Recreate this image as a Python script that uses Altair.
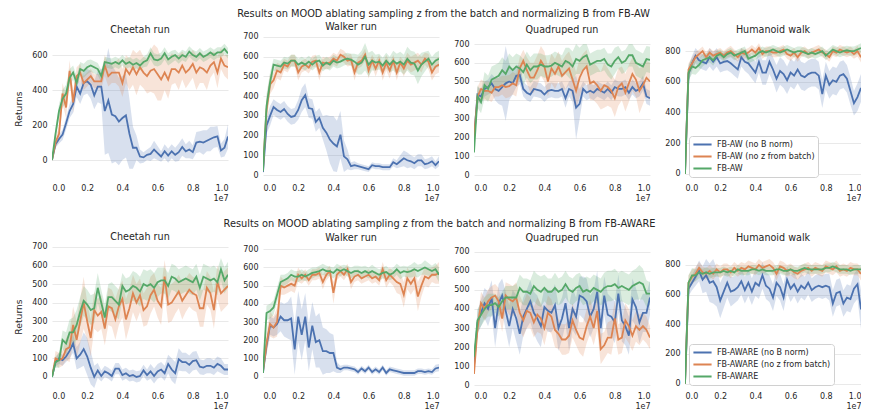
import altair as alt
import pandas as pd

# x positions in units of 1e7 environment steps (evaluation every 2e5 steps)
X = [i / 50 for i in range(51)]
COLORS = ["#4c72b0", "#dd8452", "#55a868"]
NAMES_AW = ["FB-AW (no B norm)", "FB-AW (no z from batch)", "FB-AW"]
NAMES_AWARE = ["FB-AWARE (no B norm)", "FB-AWARE (no z from batch)", "FB-AWARE"]
TITLE_AW = "Results on MOOD ablating sampling z from the batch and normalizing B from FB-AW"
TITLE_AWARE = "Results on MOOD ablating sampling z from the batch and normalizing B from FB-AWARE"
TASKS = ["Cheetah run", "Walker run", "Quadruped run", "Humanoid walk"]

# ---------------- Row 1 (FB-AW) ----------------
aw_cheetah_blue = [0, 90, 120, 145, 210, 280, 320, 420, 380, 440,
                   450, 430, 370, 420, 420, 280, 340, 260, 250, 220,
                   240, 255, 150, 70, 70, 20, 15, 30, 35, 60,
                   40, 20, 50, 25, 50, 30, 45, 75, 50, 60,
                   45, 100, 105, 100, 110, 120, 130, 135, 55, 70,
                   135]
aw_cheetah_blue_hw = [0, 20, 25, 30, 35, 40, 50, 60, 60, 70,
                      70, 80, 80, 90, 100, 250, 300, 280, 260, 250,
                      240, 240, 200, 120, 70, 40, 30, 30, 40, 50,
                      40, 30, 40, 40, 40, 40, 50, 50, 40, 50,
                      40, 60, 60, 70, 60, 70, 60, 60, 40, 50,
                      70]
aw_cheetah_orange = [0, 100, 150, 380, 300, 510, 330, 480, 500, 440,
                     460, 480, 450, 450, 450, 540, 480, 500, 500, 500,
                     440, 520, 490, 530, 490, 530, 500, 480, 510, 520,
                     490, 460, 500, 460, 520, 520, 500, 540, 500, 520,
                     550, 500, 530, 520, 500, 540, 560, 500, 580, 540,
                     530]
aw_cheetah_orange_hw = [0, 30, 40, 60, 60, 60, 60, 50, 50, 40,
                        40, 40, 40, 40, 40, 60, 60, 60, 60, 80,
                        80, 80, 90, 100, 120, 100, 90, 100, 120, 140,
                        150, 120, 100, 110, 90, 80, 100, 80, 90, 80,
                        80, 100, 90, 80, 100, 70, 60, 90, 60, 60,
                        70]
aw_cheetah_green = [0, 150, 280, 350, 380, 470, 500, 440, 520, 510,
                    530, 540, 530, 520, 480, 560, 555, 550, 560, 550,
                    570, 550, 560, 545, 555, 540, 560, 570, 610, 575,
                    570, 580, 610, 575, 590, 600, 580, 600, 590, 620,
                    600, 590, 610, 590, 600, 615, 600, 615, 615, 635,
                    610]
aw_cheetah_green_hw = [0, 30, 40, 50, 50, 50, 40, 40, 40, 40,
                       40, 35, 35, 35, 35, 30, 30, 30, 30, 30,
                       30, 30, 30, 30, 30, 30, 30, 35, 35, 35,
                       35, 35, 35, 35, 35, 30, 30, 30, 30, 30,
                       30, 30, 30, 30, 30, 30, 30, 30, 30, 30,
                       30]

aw_walker_blue = [15, 250, 300, 345, 330, 320, 335, 310, 295, 300,
                  330, 380, 405, 340, 335, 270, 290, 240, 215, 180,
                  160, 145, 205, 95, 80, 45, 50, 45, 40, 35,
                  30, 50, 45, 45, 40, 40, 40, 65, 55, 70,
                  85, 75, 70, 60, 75, 75, 55, 60, 70, 50,
                  70]
aw_walker_blue_hw = [0, 40, 50, 40, 40, 40, 40, 40, 40, 40,
                     50, 60, 60, 50, 50, 50, 50, 60, 90, 120,
                     140, 130, 120, 80, 50, 20, 20, 15, 15, 15,
                     15, 15, 15, 15, 15, 15, 15, 20, 20, 30,
                     40, 40, 30, 30, 30, 30, 25, 25, 25, 20,
                     25]
aw_walker_orange = [30, 330, 460, 480, 530, 520, 560, 550, 580, 580,
                    520, 550, 560, 545, 575, 580, 520, 570, 565, 570,
                    590, 580, 610, 600, 580, 585, 520, 570, 580, 610,
                    530, 580, 540, 580, 520, 570, 530, 580, 520, 570,
                    540, 580, 560, 570, 580, 560, 590, 575, 520, 550,
                    560]
aw_walker_orange_hw = [0, 60, 50, 40, 40, 40, 30, 30, 30, 30,
                       40, 30, 30, 30, 30, 30, 40, 30, 30, 30,
                       30, 30, 30, 30, 30, 30, 40, 30, 30, 30,
                       40, 30, 40, 30, 40, 40, 40, 30, 40, 30,
                       40, 40, 40, 40, 40, 40, 30, 40, 40, 40,
                       40]
aw_walker_green = [20, 350, 470, 560, 555, 550, 570, 565, 580, 580,
                   560, 570, 560, 575, 560, 575, 580, 555, 570, 560,
                   580, 570, 575, 585, 590, 585, 575, 560, 570, 600,
                   560, 580, 570, 575, 555, 580, 560, 580, 565, 575,
                   560, 590, 570, 565, 530, 560, 575, 590, 560, 580,
                   590]
aw_walker_green_hw = [0, 60, 50, 30, 30, 30, 30, 30, 30, 30,
                      30, 30, 30, 30, 30, 30, 30, 30, 30, 30,
                      30, 30, 30, 30, 30, 30, 40, 50, 60, 70,
                      60, 50, 40, 40, 40, 40, 40, 50, 50, 50,
                      50, 60, 60, 60, 70, 60, 50, 40, 40, 40,
                      40]

aw_quad_blue = [200, 430, 420, 460, 470, 490, 460, 450, 470, 490,
                500, 490, 530, 535, 460, 440, 430, 460, 455, 450,
                430, 450, 455, 450, 450, 460, 410, 460, 450, 360,
                380, 460, 440, 450, 440, 460, 450, 440, 460, 440,
                470, 460, 460, 470, 440, 470, 450, 460, 490, 420,
                410]
aw_quad_blue_hw = [0, 40, 40, 40, 40, 50, 60, 70, 100, 200,
                   100, 60, 60, 50, 40, 40, 40, 40, 40, 40,
                   40, 40, 40, 40, 40, 40, 50, 40, 60, 170,
                   80, 40, 40, 40, 40, 40, 40, 40, 40, 40,
                   40, 40, 40, 40, 40, 40, 40, 40, 40, 40,
                   40]
aw_quad_orange = [200, 420, 460, 450, 450, 440, 470, 470, 480, 470,
                  475, 490, 480, 570, 610, 560, 520, 520, 560, 610,
                  580, 500, 570, 540, 580, 530, 550, 570, 510, 450,
                  520, 560, 580, 490, 500, 480, 450, 480, 470, 450,
                  410, 470, 490, 440, 490, 540, 510, 450, 480, 520,
                  500]
aw_quad_orange_hw = [0, 50, 50, 50, 50, 50, 50, 50, 50, 60,
                     60, 60, 60, 60, 60, 70, 80, 80, 80, 80,
                     80, 80, 80, 80, 80, 80, 90, 90, 100, 100,
                     100, 90, 90, 90, 100, 100, 100, 120, 100, 90,
                     100, 100, 90, 100, 100, 90, 90, 120, 100, 90,
                     100]
aw_quad_green = [120, 420, 390, 480, 460, 510, 520, 530, 560, 540,
                 580, 560, 580, 570, 550, 590, 560, 580, 580, 590,
                 580, 580, 585, 600, 590, 580, 610, 600, 580, 620,
                 610, 630, 640, 590, 600, 610, 610, 620, 590, 580,
                 610, 630, 600, 610, 640, 640, 600, 590, 580, 620,
                 615]
aw_quad_green_hw = [0, 60, 60, 70, 70, 70, 70, 70, 70, 70,
                    70, 70, 70, 70, 70, 70, 70, 70, 70, 60,
                    60, 60, 60, 60, 60, 60, 70, 80, 80, 80,
                    70, 70, 60, 60, 60, 60, 60, 60, 60, 70,
                    70, 60, 60, 60, 60, 60, 70, 70, 70, 70,
                    70]

aw_hum_blue = [0, 650, 720, 770, 740, 730, 720, 760, 730, 760,
               720, 730, 735, 720, 700, 680, 760, 730, 720, 690,
               660, 730, 660, 660, 730, 680, 620, 670, 650, 610,
               660, 640, 680, 640, 630, 650, 660, 660, 640, 520,
               640, 580, 610, 600, 640, 650, 620, 540, 460, 500,
               560]
aw_hum_blue_hw = [0, 50, 50, 50, 50, 50, 50, 60, 60, 60,
                  60, 60, 60, 60, 60, 60, 60, 60, 70, 70,
                  70, 70, 80, 80, 80, 80, 90, 90, 90, 90,
                  90, 90, 90, 90, 90, 90, 90, 90, 90, 90,
                  90, 90, 90, 90, 90, 90, 90, 90, 80, 90,
                  90]
aw_hum_orange = [0, 680, 720, 760, 780, 800, 760, 790, 770, 780,
                 790, 770, 790, 800, 780, 760, 790, 780, 790, 810,
                 790, 820, 780, 800, 800, 790, 790, 800, 810, 780,
                 770, 790, 760, 790, 800, 780, 790, 800, 810, 790,
                 780, 760, 800, 790, 810, 800, 790, 800, 780, 800,
                 760]
aw_hum_orange_hw = [0, 40, 40, 35, 30, 30, 30, 30, 30, 30,
                    30, 30, 30, 35, 30, 30, 30, 30, 30, 30,
                    30, 30, 30, 30, 30, 30, 30, 30, 30, 30,
                    35, 30, 30, 30, 30, 30, 30, 30, 30, 30,
                    30, 30, 30, 30, 30, 30, 30, 30, 30, 35,
                    35]
aw_hum_green = [0, 660, 700, 690, 710, 740, 750, 760, 740, 770,
                780, 760, 780, 790, 770, 780, 790, 800, 750, 760,
                770, 790, 800, 790, 800, 810, 800, 790, 800, 810,
                800, 790, 800, 800, 790, 780, 790, 780, 790, 800,
                770, 790, 810, 800, 790, 800, 805, 800, 800, 810,
                820]
aw_hum_green_hw = [0, 50, 50, 45, 40, 40, 35, 35, 35, 30,
                   30, 30, 30, 30, 30, 30, 30, 30, 30, 30,
                   30, 30, 30, 30, 30, 30, 30, 30, 30, 30,
                   30, 30, 30, 30, 30, 30, 30, 30, 30, 30,
                   30, 30, 30, 30, 30, 30, 30, 30, 30, 30,
                   30]

# ---------------- Row 2 (FB-AWARE) ----------------
aware_cheetah_blue = [0, 80, 100, 90, 110, 140, 180, 100, 120, 150,
                      110, 50, 0, 35, 5, 30, 20, 5, 45, 45,
                      10, 20, 5, 10, 0, 5, 35, 10, 30, 5,
                      30, 40, 20, 70, 40, 20, 95, 80, 80, 65,
                      85, 90, 55, 50, 60, 60, 50, 70, 60, 40,
                      40]
aware_cheetah_blue_hw = [0, 20, 30, 30, 30, 40, 50, 60, 70, 90,
                         100, 90, 60, 40, 30, 30, 30, 30, 30, 30,
                         30, 30, 30, 30, 30, 30, 30, 30, 40, 40,
                         40, 40, 40, 50, 60, 60, 60, 50, 50, 50,
                         50, 50, 40, 40, 40, 40, 40, 40, 40, 30,
                         30]
aware_cheetah_orange = [0, 100, 90, 100, 150, 160, 280, 200, 300, 400,
                        300, 210, 360, 330, 350, 260, 380, 370, 310, 380,
                        420, 310, 370, 450, 400, 440, 360, 380, 440, 470,
                        410, 380, 540, 390, 400, 430, 460, 410, 440, 470,
                        450, 440, 370, 370, 480, 450, 360, 510, 450, 470,
                        490]
aware_cheetah_orange_hw = [0, 40, 40, 40, 60, 80, 100, 100, 120, 140,
                           100, 100, 100, 90, 90, 90, 100, 100, 110, 100,
                           100, 110, 100, 100, 100, 90, 90, 100, 100, 90,
                           90, 100, 90, 100, 100, 90, 90, 100, 90, 90,
                           90, 90, 100, 100, 90, 90, 100, 90, 100, 100,
                           100]
aware_cheetah_green = [0, 80, 90, 200, 180, 240, 240, 280, 350, 410,
                       390, 360, 370, 480, 400, 320, 430, 430, 410, 390,
                       490, 460, 470, 490, 480, 460, 500, 490, 500, 480,
                       510, 520, 520, 490, 540, 530, 510, 520, 530, 520,
                       510, 540, 480, 540, 530, 520, 530, 510, 580, 520,
                       550]
aware_cheetah_green_hw = [0, 30, 40, 50, 60, 70, 80, 80, 80, 80,
                          80, 80, 80, 80, 70, 70, 70, 80, 80, 80,
                          70, 70, 70, 80, 80, 80, 80, 80, 80, 80,
                          80, 70, 70, 70, 70, 70, 70, 70, 70, 70,
                          70, 70, 70, 70, 70, 70, 70, 70, 60, 70,
                          70]

aware_walker_blue = [20, 170, 280, 270, 290, 330, 310, 310, 320, 150,
                     330, 230, 330, 160, 280, 190, 200, 140, 140, 130,
                     130, 50, 40, 50, 50, 45, 40, 25, 45, 30,
                     50, 25, 40, 25, 50, 20, 40, 35, 30, 25,
                     20, 20, 20, 20, 30, 30, 25, 30, 25, 45,
                     50]
aware_walker_blue_hw = [0, 40, 50, 50, 60, 80, 90, 100, 120, 140,
                        140, 140, 130, 130, 130, 140, 150, 130, 120, 110,
                        100, 30, 20, 15, 15, 15, 15, 15, 15, 15,
                        15, 15, 15, 15, 15, 15, 15, 15, 15, 15,
                        15, 15, 15, 15, 15, 15, 15, 15, 15, 20,
                        20]
aware_walker_orange = [30, 180, 290, 270, 300, 500, 490, 500, 510, 500,
                       560, 540, 560, 530, 560, 560, 570, 520, 560, 580,
                       460, 560, 580, 560, 590, 520, 550, 560, 540, 550,
                       560, 540, 550, 530, 590, 530, 560, 540, 520, 510,
                       450, 540, 510, 540, 440, 500, 550, 540, 560, 560,
                       570]
aware_walker_orange_hw = [0, 60, 70, 60, 80, 50, 40, 40, 40, 40,
                          40, 30, 30, 30, 30, 30, 30, 40, 30, 30,
                          60, 30, 30, 30, 30, 40, 30, 30, 30, 30,
                          30, 30, 30, 30, 40, 40, 40, 40, 60, 60,
                          70, 60, 60, 60, 80, 60, 50, 50, 40, 50,
                          60]
aware_walker_green = [20, 350, 360, 380, 450, 520, 530, 540, 560, 550,
                      550, 560, 550, 560, 570, 575, 580, 590, 580, 580,
                      570, 590, 580, 590, 580, 570, 580, 580, 570, 580,
                      570, 580, 570, 560, 570, 575, 560, 570, 590, 570,
                      580, 575, 580, 590, 580, 590, 600, 590, 580, 590,
                      560]
aware_walker_green_hw = [0, 40, 40, 40, 40, 40, 30, 30, 30, 30,
                         30, 30, 25, 30, 30, 25, 30, 30, 30, 25,
                         30, 30, 30, 25, 30, 30, 30, 30, 35, 30,
                         30, 35, 30, 30, 30, 35, 30, 30, 30, 35,
                         30, 30, 35, 40, 35, 30, 40, 35, 30, 35,
                         40]

aware_quad_blue = [100, 330, 380, 430, 400, 460, 300, 430, 470, 390,
                   310, 400, 350, 270, 360, 400, 440, 380, 350, 310,
                   410, 390, 380, 420, 300, 350, 430, 300, 400, 360,
                   470, 460, 440, 360, 400, 490, 300, 470, 370, 360,
                   330, 480, 340, 310, 260, 450, 410, 330, 380, 380,
                   460]
aware_quad_blue_hw = [0, 60, 70, 80, 90, 90, 100, 100, 90, 100,
                      110, 100, 120, 110, 100, 100, 110, 110, 120, 110,
                      100, 110, 100, 110, 120, 110, 110, 120, 110, 100,
                      100, 110, 120, 110, 100, 110, 120, 100, 110, 100,
                      110, 100, 110, 100, 100, 110, 100, 110, 100, 100,
                      90]
aware_quad_orange = [60, 300, 430, 400, 440, 460, 470, 440, 350, 470,
                     450, 440, 460, 380, 340, 390, 380, 330, 370, 350,
                     300, 380, 360, 290, 270, 240, 240, 260, 340, 290,
                     250, 240, 310, 360, 300, 390, 190, 210, 250, 250,
                     350, 240, 250, 340, 310, 260, 310, 290, 310, 290,
                     250]
aware_quad_orange_hw = [0, 50, 60, 60, 60, 60, 60, 70, 70, 70,
                        80, 80, 80, 90, 90, 90, 80, 80, 90, 80,
                        90, 90, 90, 90, 80, 80, 80, 90, 90, 80,
                        80, 90, 90, 90, 90, 100, 80, 70, 80, 90,
                        90, 80, 80, 90, 90, 80, 80, 80, 70, 70,
                        60]
aware_quad_green = [150, 340, 370, 400, 420, 420, 430, 410, 440, 460,
                    460, 460, 460, 510, 490, 490, 480, 520, 500, 490,
                    510, 490, 490, 510, 490, 500, 530, 500, 490, 510,
                    520, 490, 500, 490, 510, 500, 490, 510, 520, 520,
                    530, 510, 520, 510, 500, 520, 530, 540, 530, 480,
                    480]
aware_quad_green_hw = [0, 60, 60, 60, 60, 60, 50, 50, 50, 60,
                       60, 60, 70, 70, 70, 70, 70, 80, 80, 80,
                       70, 70, 70, 80, 70, 70, 70, 70, 70, 70,
                       70, 70, 70, 70, 70, 70, 70, 80, 80, 80,
                       80, 80, 80, 80, 80, 80, 80, 90, 80, 70,
                       60]

aware_hum_blue = [0, 640, 680, 720, 760, 700, 730, 680, 690, 650,
                  560, 620, 680, 620, 630, 650, 690, 630, 680, 620,
                  680, 660, 730, 660, 640, 580, 680, 650, 580, 700,
                  640, 670, 620, 660, 640, 680, 630, 650, 660, 650,
                  660, 650, 540, 610, 620, 540, 580, 570, 640, 670,
                  500]
aware_hum_blue_hw = [0, 50, 50, 60, 70, 90, 110, 130, 150, 130,
                     120, 110, 100, 100, 90, 90, 90, 90, 90, 90,
                     90, 90, 90, 90, 90, 90, 90, 90, 90, 90,
                     90, 80, 80, 80, 80, 80, 80, 80, 80, 80,
                     80, 90, 90, 90, 90, 90, 90, 90, 100, 100,
                     130]
aware_hum_orange = [0, 680, 720, 740, 780, 750, 740, 760, 740, 770,
                    750, 770, 770, 750, 780, 760, 780, 770, 790, 780,
                    770, 800, 780, 790, 800, 780, 740, 790, 780, 760,
                    770, 750, 740, 760, 770, 780, 760, 780, 770, 760,
                    790, 780, 770, 790, 760, 770, 760, 780, 770, 770,
                    740]
aware_hum_orange_hw = [0, 50, 50, 45, 40, 40, 40, 40, 40, 40,
                       40, 40, 40, 40, 40, 40, 40, 40, 40, 40,
                       40, 40, 40, 40, 40, 40, 45, 40, 40, 40,
                       40, 40, 40, 40, 40, 40, 40, 40, 40, 40,
                       40, 40, 40, 40, 40, 40, 40, 40, 40, 40,
                       45]
aware_hum_green = [0, 680, 730, 730, 750, 740, 750, 740, 750, 750,
                   750, 760, 750, 760, 750, 770, 760, 760, 760, 770,
                   770, 760, 770, 760, 760, 760, 770, 770, 760, 760,
                   770, 760, 760, 770, 780, 770, 770, 770, 770, 770,
                   780, 780, 790, 780, 770, 770, 770, 760, 770, 770,
                   770]
aware_hum_green_hw = [0, 50, 50, 40, 40, 35, 35, 35, 30, 30,
                      30, 30, 30, 30, 30, 30, 30, 30, 30, 30,
                      30, 30, 30, 30, 30, 30, 30, 30, 30, 30,
                      30, 30, 30, 30, 30, 30, 30, 30, 30, 30,
                      30, 30, 30, 30, 30, 30, 30, 30, 30, 30,
                      30]

ROW1 = [
    ([(aw_cheetah_blue, aw_cheetah_blue_hw), (aw_cheetah_orange, aw_cheetah_orange_hw), (aw_cheetah_green, aw_cheetah_green_hw)], [-120, 709], [0, 200, 400, 600]),
    ([(aw_walker_blue, aw_walker_blue_hw), (aw_walker_orange, aw_walker_orange_hw), (aw_walker_green, aw_walker_green_hw)], [-30, 705], [0, 100, 200, 300, 400, 500, 600, 700]),
    ([(aw_quad_blue, aw_quad_blue_hw), (aw_quad_orange, aw_quad_orange_hw), (aw_quad_green, aw_quad_green_hw)], [-32, 743], [0, 100, 200, 300, 400, 500, 600, 700]),
    ([(aw_hum_blue, aw_hum_blue_hw), (aw_hum_orange, aw_hum_orange_hw), (aw_hum_green, aw_hum_green_hw)], [-46, 898], [0, 200, 400, 600, 800]),
]
ROW2 = [
    ([(aware_cheetah_blue, aware_cheetah_blue_hw), (aware_cheetah_orange, aware_cheetah_orange_hw), (aware_cheetah_green, aware_cheetah_green_hw)], [-65, 716], [0, 100, 200, 300, 400, 500, 600, 700]),
    ([(aware_walker_blue, aware_walker_blue_hw), (aware_walker_orange, aware_walker_orange_hw), (aware_walker_green, aware_walker_green_hw)], [-68, 729], [0, 100, 200, 300, 400, 500, 600, 700]),
    ([(aware_quad_blue, aware_quad_blue_hw), (aware_quad_orange, aware_quad_orange_hw), (aware_quad_green, aware_quad_green_hw)], [-19, 740], [0, 100, 200, 300, 400, 500, 600, 700]),
    ([(aware_hum_blue, aware_hum_blue_hw), (aware_hum_orange, aware_hum_orange_hw), (aware_hum_green, aware_hum_green_hw)], [-36, 941], [0, 200, 400, 600, 800]),
]

W, H = 176, 145
FONT = "DejaVu Sans"
TXT = "#262626"


def panel(title, names, series, domain, ticks, first, with_legend):
    rows = []
    for name, (mean, hw) in zip(names, series):
        for x, m, h in zip(X, mean, hw):
            rows.append({"x": x, "y": m, "lo": m - h, "hi": m + h, "s": name})
    df = pd.DataFrame(rows)
    xaxis = alt.Axis(values=[0, 0.2, 0.4, 0.6, 0.8, 1.0], format=".1f", title="1e7",
                     titleAnchor="end", titleFontSize=8, titleFontWeight="normal",
                     titlePadding=2, labelPadding=3, grid=False)
    xenc = alt.X("x:Q", scale=alt.Scale(domain=[0, 1], nice=False, zero=False), axis=xaxis)
    yscale = alt.Scale(domain=domain, nice=False, zero=False)
    yaxis = alt.Axis(values=ticks, title="Returns" if first else None, labelPadding=5,
                     minExtent=22, maxExtent=22, titlePadding=7, titleFontSize=9.2,
                     titleFontWeight="normal", grid=True)
    base = alt.Chart(df)
    # confidence bands: one layer per series, constant colour (no extra scale / legend)
    bands = [
        base.transform_filter(alt.FieldEqualPredicate(field="s", equal=name))
        .mark_area(color=c, opacity=0.22, clip=True)
        .encode(x=xenc, y=alt.Y("lo:Q", scale=yscale, axis=yaxis), y2="hi:Q")
        for name, c in zip(names, COLORS)
    ]
    cscale = alt.Scale(domain=names, range=COLORS)
    if with_legend:
        leg = alt.Legend(title=None, orient="bottom-left", offset=4, fillColor="white",
                         strokeColor="#d0d0d0", cornerRadius=3, padding=3,
                         symbolType="stroke", symbolSize=330, symbolStrokeWidth=2,
                         labelFontSize=8, labelFont=FONT, labelColor=TXT,
                         rowPadding=1, clipHeight=11, labelOffset=4, labelLimit=200)
        color = alt.Color("s:N", scale=cscale, legend=leg)
    else:
        color = alt.Color("s:N", scale=cscale, legend=None)
    line = base.mark_line(strokeWidth=1.8, clip=True).encode(
        x=xenc, y=alt.Y("y:Q", scale=yscale, axis=yaxis), color=color)
    return alt.layer(*bands, line).properties(
        width=W, height=H, title=alt.TitleParams(title, offset=1))


def row(defs, names, title, dx):
    panels = [panel(TASKS[i], names, s, d, t, i == 0, i == 3) for i, (s, d, t) in enumerate(defs)]
    return alt.hconcat(*panels, spacing=13,
                       title=alt.TitleParams(title, anchor="middle", fontSize=9.8, offset=4, dx=dx)
                       ).resolve_scale(x="independent", y="independent", color="independent"
                       ).resolve_legend(color="independent")


chart = alt.vconcat(row(ROW1, NAMES_AW, TITLE_AW, 6), row(ROW2, NAMES_AWARE, TITLE_AWARE, 2),
                    spacing=16,
                    padding={"left": 6, "top": 0, "right": 0, "bottom": 0}
                    ).resolve_scale(x="independent", y="independent", color="independent"
                    ).resolve_legend(color="independent"
                    ).configure_view(stroke=None
                    ).configure_axis(domain=False, ticks=False, labelFont=FONT, labelFontSize=8,
                                     labelColor=TXT, titleFont=FONT, titleColor=TXT,
                                     gridColor="#e9e9e9", gridWidth=1
                    ).configure_title(font=FONT, fontSize=9.6, fontWeight="normal", color=TXT)

chart.save("out.html", embed_options={"renderer": "svg", "actions": False})
